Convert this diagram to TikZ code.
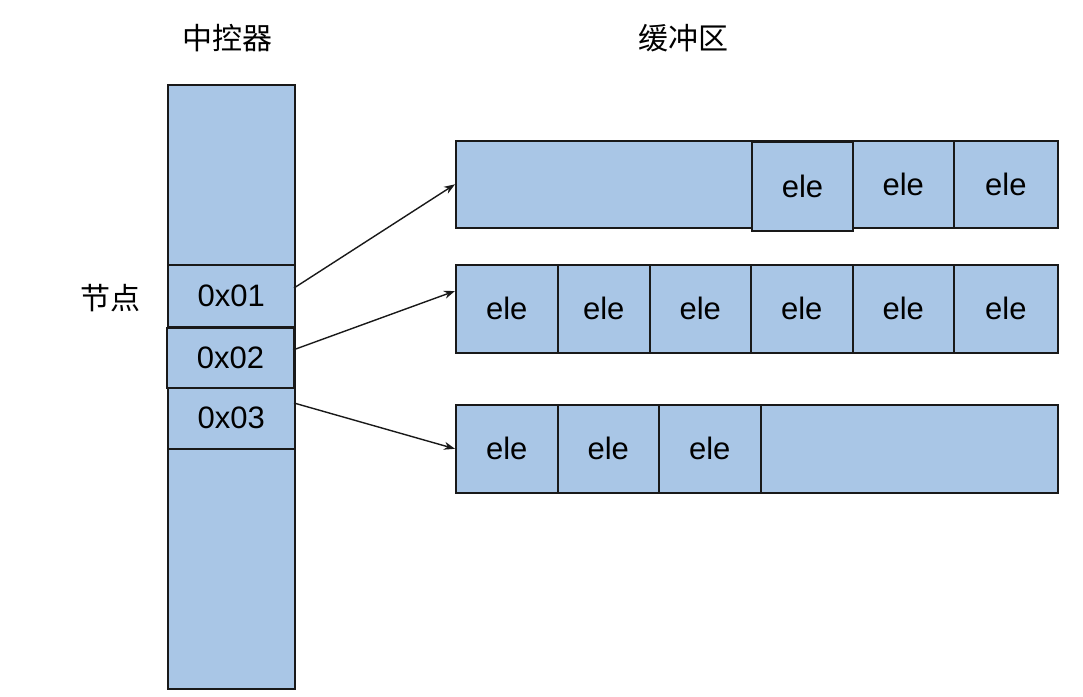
\documentclass[tikz,border=0pt]{standalone}
\usepackage{fontspec}
\setmainfont{Liberation Sans}
\newfontfamily\cjk{Noto Sans CJK SC}
\usetikzlibrary{arrows.meta}
\definecolor{cellblue}{RGB}{169,198,230}
\definecolor{edge}{RGB}{25,25,25}
\tikzset{
  box/.style={draw=edge, fill=cellblue, line width=1.6pt, inner sep=0pt, anchor=north west, font=\fontsize{31}{34}\selectfont},
  title/.style={font=\cjk\fontsize{30}{33}\selectfont},
  link/.style={draw=edge, line width=1.4pt, -{Stealth[length=11pt,width=8pt]}}
}
\begin{document}
\begin{tikzpicture}[x=1pt,y=-1pt]
\useasboundingbox (0,0) rectangle (1083,696);
% titles
\node[title] (t1) at (227,38) {中控器};
\node[title] (t2) at (683,38) {缓冲区};
\node[title] (t3) at (110,298) {节点};
% controller column
\node[box, minimum width=127pt, minimum height=604pt] (col) at (167,84) {};
\node[box, minimum width=127pt, minimum height=62pt] (c1) at (167,264) {0x01};
\node[box, minimum width=127pt, minimum height=61pt] (c3) at (167,387) {0x03};
\node[box, minimum width=127pt, minimum height=60pt, line width=2pt] (c2) at (166,327) {0x02};
% buffer row 1
\node[box, minimum width=602pt, minimum height=87pt] (r1) at (455,140) {};
\node[box, minimum width=101pt, minimum height=87pt] (r1b) at (852,140) {ele};
\node[box, minimum width=104pt, minimum height=87pt] (r1c) at (953,140) {ele};
\node[box, minimum width=101pt, minimum height=89pt, line width=2pt] (r1a) at (751,141) {ele};
\draw[edge, line width=2.6pt] (r1a.north west) -- (r1a.north east);
% buffer row 2
\node[box, minimum width=602pt, minimum height=88pt] (r2) at (455,264) {};
\node[box, minimum width=102pt, minimum height=88pt] (r2a) at (455,264) {ele};
\node[box, minimum width=92pt, minimum height=88pt] (r2b) at (557,264) {ele};
\node[box, minimum width=101pt, minimum height=88pt] (r2c) at (649,264) {ele};
\node[box, minimum width=102pt, minimum height=88pt] (r2d) at (750,264) {ele};
\node[box, minimum width=101pt, minimum height=88pt] (r2e) at (852,264) {ele};
\node[box, minimum width=104pt, minimum height=88pt] (r2f) at (953,264) {ele};
% buffer row 3
\node[box, minimum width=602pt, minimum height=88pt] (r3) at (455,404) {};
\node[box, minimum width=102pt, minimum height=88pt] (r3a) at (455,404) {ele};
\node[box, minimum width=101pt, minimum height=88pt] (r3b) at (557,404) {ele};
\node[box, minimum width=102pt, minimum height=88pt] (r3c) at (658,404) {ele};
% arrow anchor points
\coordinate (s1) at (294,288);
\coordinate (s2) at (293,350);
\coordinate (s3) at (294,403);
\coordinate (e2) at (455,291);
\draw[link] (s1) -- (r1.west);
\draw[link] (s2) -- (e2);
\draw[link] (s3) -- (r3.west);
\end{tikzpicture}
\end{document}
